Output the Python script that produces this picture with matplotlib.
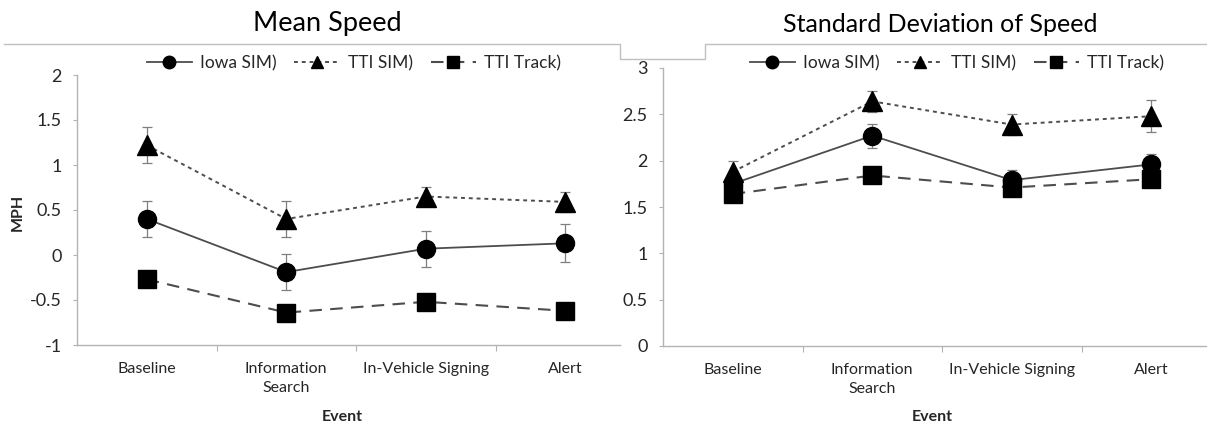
import numpy as np
import matplotlib
matplotlib.use('Agg')
import matplotlib.pyplot as plt
from matplotlib.lines import Line2D
from matplotlib.ticker import FuncFormatter

plt.rcParams['font.family'] = ['Lato', 'DejaVu Sans']
plt.rcParams['axes.unicode_minus'] = False

# data

events = ['Baseline', 'Information\nSearch', 'In-Vehicle Signing', 'Alert']
series_names = ['Iowa SIM)', 'TTI SIM)', 'TTI Track)']

mean_iowa = [0.40, -0.19, 0.07, 0.13]
mean_iowa_err = [0.20, 0.20, 0.20, 0.21]
mean_tti_sim = [1.22, 0.40, 0.65, 0.59]
mean_tti_sim_err = [0.20, 0.20, 0.11, 0.11]
mean_tti_track = [-0.27, -0.64, -0.52, -0.62]
mean_tti_track_err = [0.05, 0.05, 0.05, 0.06]

sd_iowa = [1.75, 2.27, 1.79, 1.96]
sd_iowa_err = [0.08, 0.13, 0.11, 0.11]
sd_tti_sim = [1.88, 2.64, 2.39, 2.48]
sd_tti_sim_err = [0.12, 0.11, 0.11, 0.17]
sd_tti_track = [1.64, 1.84, 1.71, 1.80]
sd_tti_track_err = [0.05, 0.05, 0.05, 0.05]

W, H = 1207, 428
LINE = '#4d4d4d'
AXIS = '#b3b3b3'
TEXT = '#262626'

styles = [
    dict(marker='o', ms=13, ls='-', lw=1.3),
    dict(marker='^', ms=14, ls=(0, (2, 2)), lw=1.4),
    dict(marker='s', ms=13, ls=(0, (6, 4)), lw=1.5),
]


def fx(px):
    return px / W


def fy(py):
    return 1 - py / H


def draw_panel(ax, values, errors, ylim, yticks, right_px, left_px):
    x = np.arange(len(events))
    for vals, errs, st in zip(values, errors, styles):
        ax.errorbar(x, vals, yerr=errs, fmt='none', ecolor='#7f7f7f',
                    elinewidth=0.9, capsize=3.5, capthick=0.9, zorder=2)
        ax.plot(x, vals, color=LINE, ls=st['ls'], lw=st['lw'], zorder=3)
        ax.plot(x, vals, ls='none', marker=st['marker'], ms=st['ms'],
                color='black', zorder=4)

    span = (right_px - left_px) / 139.5
    ax.set_xlim(-0.5, -0.5 + span)
    ax.set_ylim(*ylim)
    ax.set_yticks(yticks)
    ax.yaxis.set_major_formatter(FuncFormatter(lambda v, p: ('%g' % v)))

    ax.set_xticks([0.5, 1.5, 2.5])
    ax.set_xticklabels([])
    ax.set_xticks(x, minor=True)
    ax.set_xticklabels(events, minor=True, linespacing=1.45)
    ax.tick_params(axis='x', which='major', length=4, color=AXIS)
    ax.tick_params(axis='x', which='minor', length=0, pad=12,
                   labelsize=11.5, labelcolor=TEXT)
    ax.tick_params(axis='y', length=3, color=AXIS, pad=8,
                   labelsize=13, labelcolor=TEXT)

    for s in ['top', 'right']:
        ax.spines[s].set_visible(False)
    for s in ['left', 'bottom']:
        ax.spines[s].set_color(AXIS)
        ax.spines[s].set_linewidth(1.0)


def add_legend(ax, cx, cy):
    handles = [Line2D([], [], color=LINE, ls=st['ls'], lw=st['lw'],
                      marker=st['marker'], ms=9, mfc='black', mec='black')
               for st in styles]
    ax.legend(handles, series_names, loc='center', ncol=3, frameon=False,
              bbox_to_anchor=(fx(cx), fy(cy)), bbox_transform=fig.transFigure,
              fontsize=12.5, handlelength=2.6, handletextpad=0.5,
              columnspacing=1.0, labelcolor=TEXT)


fig = plt.figure(figsize=(W / 100, H / 100), dpi=100)

# left panel: mean speed
ax1 = fig.add_axes([fx(77), fy(345), fx(620 - 77), (345 - 75) / H])
draw_panel(ax1, [mean_iowa, mean_tti_sim, mean_tti_track],
           [mean_iowa_err, mean_tti_sim_err, mean_tti_track_err],
           (-1, 2), [-1, -0.5, 0, 0.5, 1, 1.5, 2], 620, 77)
add_legend(ax1, 354, 63)

# right panel: standard deviation
ax2 = fig.add_axes([fx(663), fy(346), fx(W - 663), (346 - 68) / H])
draw_panel(ax2, [sd_iowa, sd_tti_sim, sd_tti_track],
           [sd_iowa_err, sd_tti_sim_err, sd_tti_track_err],
           (0, 3), [0, 0.5, 1, 1.5, 2, 2.5, 3], W, 663)
add_legend(ax2, 957, 63)

# titles and axis labels
fig.text(fx(327), fy(23), 'Mean Speed', ha='center', va='center',
         fontsize=19.5, color='black')
fig.text(fx(940), fy(25), 'Standard Deviation of Speed', ha='center',
         va='center', fontsize=18, color='black')
fig.text(fx(18), fy(212), 'MPH', rotation=90, ha='center', va='center',
         fontsize=11.5, fontweight='bold', color=TEXT)
fig.text(fx(342), fy(417), 'Event', ha='center', va='center',
         fontsize=11.5, fontweight='bold', color=TEXT)
fig.text(fx(932), fy(417), 'Event', ha='center', va='center',
         fontsize=11.5, fontweight='bold', color=TEXT)

# chart frame edges left over from the pasted images
frame_x = [4, 620, 620, 705, 705, W]
frame_y = [44, 44, 59, 59, 44, 44]
fig.add_artist(Line2D([fx(v) for v in frame_x], [fy(v) for v in frame_y],
                      transform=fig.transFigure, color='#c0c0c0', lw=1.0))

fig.savefig('out.png', dpi=100)
